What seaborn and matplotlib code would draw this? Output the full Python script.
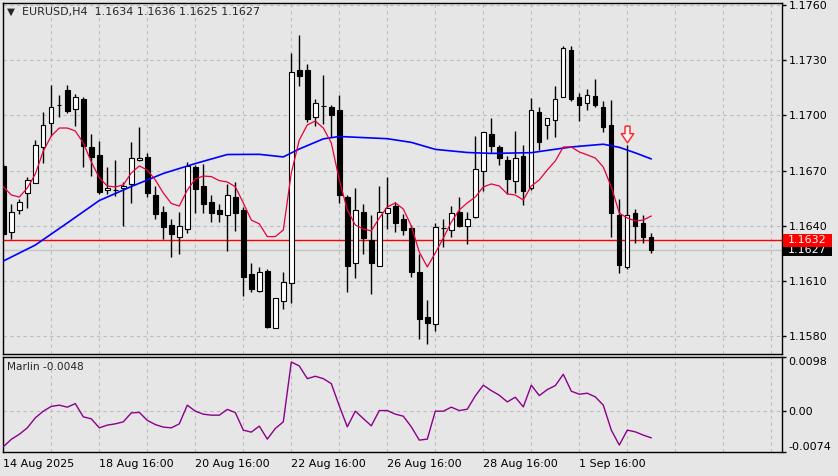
import numpy as np
import pandas as pd
import matplotlib
matplotlib.use("Agg")
import matplotlib.pyplot as plt
from matplotlib.path import Path
from matplotlib.patches import Rectangle
import seaborn as sns

# ---- data (EURUSD H4) ----
symbol = "EURUSD,H4"

opens = [1.16725, 1.16364, 1.16486, 1.16580, 1.16634, 1.16826, 1.16957, 1.17054, 1.17138, 1.17033,
         1.17087, 1.16826, 1.16783, 1.16594, 1.16594, 1.16605, 1.16627, 1.16756, 1.16775, 1.16567,
         1.16475, 1.16404, 1.16341, 1.16384, 1.16721, 1.16616, 1.16528, 1.16484, 1.16457, 1.16555,
         1.16486, 1.16136, 1.16044, 1.16154, 1.15843, 1.15993, 1.16087, 1.17247, 1.17247, 1.16993,
         1.17053, 1.17046, 1.17029, 1.16558, 1.16196, 1.16475, 1.16323, 1.16183, 1.16468, 1.16507,
         1.16435, 1.16388, 1.16149, 1.15902, 1.15864, 1.16386, 1.16375, 1.16475, 1.16399, 1.16446,
         1.16696, 1.16897, 1.16826, 1.16757, 1.16645, 1.16779, 1.16605, 1.17018, 1.16946, 1.16975,
         1.17100, 1.17355, 1.17098, 1.17066, 1.17105, 1.17044, 1.16946, 1.16457, 1.16174, 1.16468,
         1.16417, 1.16340]
highs = [1.16736, 1.16518, 1.16544, 1.16663, 1.16866, 1.17020, 1.17165, 1.17111, 1.17165, 1.17116,
         1.17101, 1.16899, 1.16859, 1.16718, 1.16757, 1.16640, 1.16855, 1.16935, 1.16794, 1.16616,
         1.16507, 1.16437, 1.16475, 1.16747, 1.16729, 1.16736, 1.16567, 1.16518, 1.16627, 1.16638,
         1.16504, 1.16198, 1.16174, 1.16167, 1.16007, 1.16147, 1.17341, 1.17437, 1.17279, 1.17089,
         1.17219, 1.17056, 1.17111, 1.16567, 1.16604, 1.16517, 1.16459, 1.16616, 1.16667, 1.16531,
         1.16464, 1.16404, 1.16245, 1.15997, 1.16417, 1.16437, 1.16507, 1.16558, 1.16476, 1.16888,
         1.16911, 1.16986, 1.16839, 1.16779, 1.16915, 1.16839, 1.17096, 1.17044, 1.16986, 1.17160,
         1.17379, 1.17379, 1.17123, 1.17142, 1.17196, 1.17080, 1.17084, 1.16544, 1.16839, 1.16493,
         1.16457, 1.16360]
lows = [1.16344, 1.16328, 1.16464, 1.16495, 1.16631, 1.16743, 1.16888, 1.16993, 1.17015, 1.16942,
        1.16721, 1.16670, 1.16573, 1.16573, 1.16562, 1.16400, 1.16525, 1.16754, 1.16558, 1.16435,
        1.16328, 1.16232, 1.16245, 1.16362, 1.16471, 1.16471, 1.16420, 1.16420, 1.16264, 1.16372,
        1.16018, 1.16042, 1.16038, 1.15846, 1.15842, 1.15946, 1.15982, 1.17161, 1.16966, 1.16944,
        1.16953, 1.16884, 1.16525, 1.16042, 1.16114, 1.16245, 1.16029, 1.16183, 1.16382, 1.16364,
        1.16348, 1.16123, 1.15783, 1.15756, 1.15828, 1.16283, 1.16341, 1.16395, 1.16301, 1.16442,
        1.16591, 1.16794, 1.16732, 1.16573, 1.16576, 1.16513, 1.16594, 1.16812, 1.16873, 1.16884,
        1.17100, 1.17078, 1.16971, 1.17029, 1.17044, 1.16911, 1.16341, 1.16145, 1.16163, 1.16305,
        1.16305, 1.16250]
closes = [1.16355, 1.16473, 1.16531, 1.16649, 1.16837, 1.16946, 1.17044, 1.17056, 1.17025, 1.17098,
          1.16834, 1.16775, 1.16585, 1.16605, 1.16594, 1.16616, 1.16767, 1.16768, 1.16576, 1.16466,
          1.16395, 1.16354, 1.16397, 1.16725, 1.16601, 1.16517, 1.16471, 1.16466, 1.16566, 1.16471,
          1.16123, 1.16055, 1.16147, 1.15851, 1.16006, 1.16093, 1.17236, 1.17216, 1.16982, 1.17066,
          1.17052, 1.17004, 1.16567, 1.16183, 1.16484, 1.16335, 1.16196, 1.16473, 1.16495, 1.16413,
          1.16375, 1.16150, 1.15895, 1.15873, 1.16395, 1.16387, 1.16468, 1.16399, 1.16435, 1.16707,
          1.16908, 1.16835, 1.16767, 1.16654, 1.16768, 1.16591, 1.17029, 1.16854, 1.16984, 1.17087,
          1.17365, 1.17087, 1.17055, 1.17112, 1.17055, 1.16935, 1.16468, 1.16187, 1.16457, 1.16399,
          1.16337, 1.16270]

# red (fast) moving average
ma_fast = [1.16612, 1.16567, 1.16556, 1.16605, 1.16681, 1.16806, 1.16888, 1.16931, 1.16931, 1.16915,
           1.16850, 1.16747, 1.16660, 1.16616, 1.16611, 1.16622, 1.16687, 1.16725, 1.16703, 1.16649,
           1.16578, 1.16521, 1.16507, 1.16594, 1.16654, 1.16670, 1.16667, 1.16645, 1.16638, 1.16612,
           1.16524, 1.16431, 1.16410, 1.16341, 1.16341, 1.16377, 1.16687, 1.16866, 1.16948, 1.16969,
           1.16931, 1.16850, 1.16649, 1.16486, 1.16404, 1.16382, 1.16372, 1.16442, 1.16502, 1.16524,
           1.16491, 1.16399, 1.16257, 1.16176, 1.16252, 1.16333, 1.16420, 1.16486, 1.16524, 1.16556,
           1.16611, 1.16627, 1.16616, 1.16573, 1.16567, 1.16540, 1.16616, 1.16649, 1.16703, 1.16752,
           1.16828, 1.16828, 1.16801, 1.16785, 1.16768, 1.16719, 1.16611, 1.16469, 1.16442, 1.16426,
           1.16431, 1.16453]

# blue (slow) moving average, read at selected bars
ma_slow_bars = [0, 4, 8, 12, 16, 20, 24, 28, 32, 35, 37, 40, 42, 48, 51, 54, 58, 61, 66, 71, 75, 77, 79, 81]
ma_slow = [1.16208, 1.16295, 1.16415, 1.16537, 1.16613, 1.16684, 1.16738, 1.16787, 1.16788, 1.16774,
           1.16817, 1.16872, 1.16885, 1.16873, 1.16853, 1.16815, 1.16798, 1.16793, 1.16797, 1.16828,
           1.16843, 1.16826, 1.16796, 1.16763]

marlin = [-0.00641, -0.00506, -0.00416, -0.00300, -0.00120, 0.00000, 0.00086, 0.00108, 0.00072, 0.00136,
          -0.00102, -0.00138, -0.00300, -0.00251, -0.00228, -0.00192, -0.00031, -0.00022, -0.00165, -0.00241,
          -0.00287, -0.00300, -0.00228, 0.00108, 0.00000, -0.00054, -0.00072, -0.00072, 0.00032, -0.00025,
          -0.00341, -0.00377, -0.00269, -0.00503, -0.00312, -0.00192, 0.00885, 0.00813, 0.00585, 0.00628,
          0.00585, 0.00495, 0.00095, -0.00282, 0.00000, -0.00133, -0.00264, 0.00011, 0.00011, -0.00054,
          -0.00090, -0.00282, -0.00521, -0.00503, 0.00000, 0.00000, 0.00072, 0.00011, 0.00036, 0.00275,
          0.00467, 0.00370, 0.00287, 0.00167, 0.00251, 0.00077, 0.00467, 0.00280, 0.00388, 0.00460,
          0.00664, 0.00359, 0.00305, 0.00323, 0.00257, 0.00108, -0.00341, -0.00610, -0.00341, -0.00372,
          -0.00431, -0.00480]

date_label_bars = [0, 12, 24, 36, 48, 60, 72]
date_labels = ["14 Aug 2025", "18 Aug 16:00", "20 Aug 16:00", "22 Aug 16:00",
               "26 Aug 16:00", "28 Aug 16:00", "1 Sep 16:00"]
price_ticks = [1.1760, 1.1730, 1.1700, 1.1670, 1.1640, 1.1610, 1.1580]
marlin_ticks = [0.0098, 0.0, -0.0074]
marlin_tick_labels = ["0.0098", "0.00", "-0.0074"]
ask_price = 1.1632
bid_price = 1.1627
signal_bar = 78
signal_price = 1.16896

# ---- style ----
BG = "#e6e6e6"
GRID = "#bdbdbd"
sns.set_style("white", rc={"axes.facecolor": BG, "figure.facecolor": BG,
                           "axes.edgecolor": "black", "axes.linewidth": 1.0})
plt.rcParams["font.family"] = ["DejaVu Sans"]
plt.rcParams["font.size"] = 8

W, H = 838, 476
fig = plt.figure(figsize=(W / 100, H / 100), dpi=100)
left, right = 2.7 / W, 781.7 / W
ax = fig.add_axes([left, 1 - 354 / H, right - left, (354 - 2.7) / H])
ax2 = fig.add_axes([left, 1 - 452.3 / H, right - left, (452.3 - 356.7) / H])

df = pd.DataFrame({"bar": np.arange(len(opens)), "open": opens, "high": highs,
                   "low": lows, "close": closes})
df["lo"] = df[["open", "close"]].min(axis=1)
df["body"] = (df["close"] - df["open"]).abs()
up = df["close"] >= df["open"]

xlim = (-0.075, 97.3)
grid_bars = list(range(0, 97, 6))

# main panel
for b in grid_bars:
    ax.axvline(b, color=GRID, lw=0.8, ls=(0, (3, 3)), zorder=0)
for p in price_ticks:
    ax.axhline(p, color=GRID, lw=0.8, ls=(0, (3, 3)), zorder=0)
ax.axhline(bid_price, color="#c4c4c4", lw=1.0, zorder=1)
ax.axhline(ask_price, color="red", lw=1.0, zorder=1)

ax.vlines(df["bar"], df["low"], df["high"], color="black", lw=1.0, zorder=3)
ax.bar(df["bar"][up], df["body"][up], bottom=df["lo"][up], width=0.55,
       color="white", edgecolor="black", linewidth=0.8, zorder=4)
ax.bar(df["bar"][~up], df["body"][~up], bottom=df["lo"][~up], width=0.55,
       color="black", edgecolor="black", linewidth=0.8, zorder=4)

sns.lineplot(x=ma_slow_bars, y=ma_slow, ax=ax, color="#0000ff", lw=1.2, zorder=5)
sns.lineplot(x=df["bar"], y=ma_fast, ax=ax, color="#e8003c", lw=0.9, zorder=6)

# hollow down arrow signal
arrow = Path([(-0.3, 1), (0.3, 1), (0.3, 0.1), (0.75, 0.1), (0, -1),
              (-0.75, 0.1), (-0.3, 0.1), (-0.3, 1)])
ax.plot([signal_bar], [signal_price], marker=arrow, ms=12, mfc="#f4f4f4",
        mec="#ff2020", mew=1.0, ls="none", zorder=7)

ax.set_xlim(*xlim)
ax.set_ylim(1.15703, 1.17612)
ax.set_xticks([])
ax.yaxis.tick_right()
ax.set_yticks(price_ticks)
ax.set_yticklabels([f"{p:.4f}" for p in price_ticks])
ax.tick_params(axis="y", direction="out", length=3, width=1, pad=2, labelsize=8, colors="black")
ax.set_xlabel("")
ax.set_ylabel("")

# price boxes on right scale
ytr = ax.get_yaxis_transform()
box_h = 0.00073
ax.add_patch(Rectangle((1.002, bid_price - box_h / 2), 0.062, box_h, transform=ytr,
                       facecolor="black", edgecolor="none", clip_on=False, zorder=10))
ax.text(1.033, bid_price, f"{bid_price:.4f}", transform=ytr, color="white", fontsize=8,
        ha="center", va="center", clip_on=False, zorder=11)
ax.add_patch(Rectangle((1.002, ask_price - box_h / 2), 0.062, box_h, transform=ytr,
                       facecolor="red", edgecolor="none", clip_on=False, zorder=12))
ax.text(1.033, ask_price, f"{ask_price:.4f}", transform=ytr, color="white", fontsize=8,
        ha="center", va="center", clip_on=False, zorder=13)

# header
fig.text(10.5 / W, 1 - 12 / H, "\u25bc", fontsize=7.5, ha="center", va="center")
fig.text(21.5 / W, 1 - 12 / H, f"{symbol}  {opens[-1]:.4f} {highs[-1]:.4f} {lows[-1]:.4f} {closes[-1]:.4f}",
         fontsize=8, ha="left", va="center")

# indicator panel
for b in grid_bars:
    ax2.axvline(b, color=GRID, lw=0.8, ls=(0, (3, 3)), zorder=0)
ax2.axhline(0.0, color=GRID, lw=0.8, ls=(0, (3, 3)), zorder=0)
sns.lineplot(x=df["bar"], y=marlin, ax=ax2, color="#8b008b", lw=1.0, zorder=3)
ax2.set_xlim(*xlim)
ax2.set_ylim(-0.0074, 0.0098)
ax2.yaxis.tick_right()
ax2.set_yticks(marlin_ticks)
ax2.set_yticklabels(marlin_tick_labels)
labs = ax2.get_yticklabels()
labs[0].set_va("top")
labs[2].set_va("bottom")
ax2.tick_params(axis="y", direction="out", length=3, width=1, pad=2, labelsize=8, colors="black")
ax2.set_xticks(date_label_bars)
ax2.set_xticklabels(date_labels, ha="left")
ax2.tick_params(axis="x", direction="out", length=3, width=1, pad=2, labelsize=8, colors="black")
ax2.set_xlabel("")
ax2.set_ylabel("")
ax2.text(4.6 / 779, 0.89, f"Marlin {marlin[-1]:.4f}", transform=ax2.transAxes,
         fontsize=7.6, ha="left", va="center")

for a in (ax, ax2):
    for s in a.spines.values():
        s.set_visible(True)
        s.set_color("black")
        s.set_linewidth(1.0)

fig.savefig("out.png", dpi=100, facecolor=BG)
